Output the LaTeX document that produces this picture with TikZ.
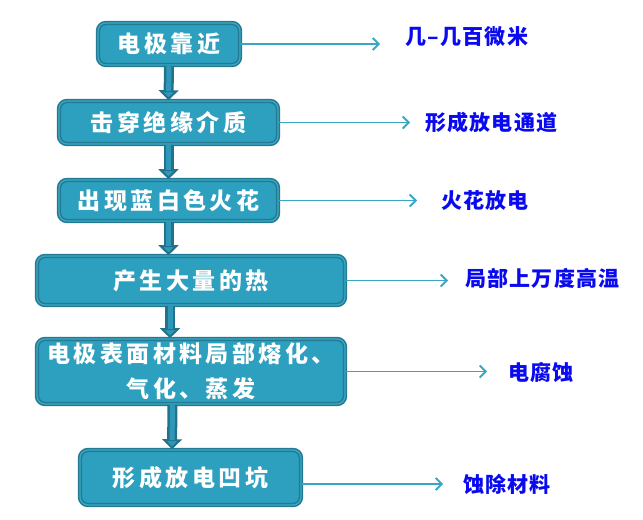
\documentclass[tikz,border=0pt]{standalone}
\usepackage{fontspec}
\usetikzlibrary{arrows.meta}
\newfontfamily\boxfont[LetterSpace=15]{Noto Sans CJK SC}
\newfontfamily\labfont[LetterSpace=6]{Noto Sans CJK SC}
\definecolor{boxfill}{HTML}{2EA0BF}
\definecolor{boxedge}{HTML}{257A93}
\definecolor{boxinner}{HTML}{3AAAC8}
\definecolor{harrow}{HTML}{3AA6C6}
\definecolor{vedge}{HTML}{23728B}
\definecolor{vfill}{HTML}{2E98B8}
\definecolor{labblue}{HTML}{0A0AF0}
\begin{document}
\begin{tikzpicture}[x=1bp,y=-1bp,
  stepbox/.style={rectangle, rounded corners=8bp, fill=boxfill, draw=boxedge,
    line width=1.6bp, double=boxinner, double distance=1.2bp, text=white,
    font=\boxfont\bfseries\fontsize{23bp}{35bp}\selectfont, align=center, inner sep=0pt},
  lab/.style={anchor=west, inner sep=0pt, text=labblue,
    font=\labfont\bfseries\fontsize{21bp}{24bp}\selectfont},
  harr/.style={draw=harrow, line width=1.8bp, -{Straight Barb[length=6bp,width=12bp,line width=1.8bp]}},
  varr/.style={draw=vedge, line width=10bp, -{Triangle[length=10bp,width=20bp,fill=vfill,line width=2bp]},
    postaction={draw=vfill, line width=5bp, shorten >=9bp, -}}
]
\useasboundingbox (0,0) rectangle (643,520);
\node[stepbox, minimum width=142bp, minimum height=42bp] (b1) at (169,44) {电极靠近};
\node[stepbox, minimum width=219bp, minimum height=43bp] (b2) at (168.5,122.5) {击穿绝缘介质};
\node[stepbox, minimum width=219bp, minimum height=41bp] (b3) at (168.5,200.5) {出现蓝白色火花};
\node[stepbox, minimum width=308bp, minimum height=49bp] (b4) at (191,280.5) {产生大量的热};
\node[stepbox, minimum width=308bp, minimum height=65bp] (b5) at (191,371.5) {电极表面材料局部熔化、\\气化、蒸发};
\node[stepbox, minimum width=221bp, minimum height=55bp] (b6) at (190.5,477.5) {形成放电凹坑};

\draw[varr] (b1.south) -- (b2.north);
\draw[varr] (b2.south) -- (b3.north);
\draw[varr] (b3.south) -- (b3.south |- b4.north);
\draw[varr] ([xshift=-21bp]b4.south) -- ([xshift=-21bp]b5.north);
\draw[varr] ([xshift=-18.5bp]b5.south) -- ([xshift=-18.5bp]b6.north);

\coordinate (e1) at (380,44);
\coordinate (e2) at (410,122.5);
\coordinate (e3) at (417,200.5);
\coordinate (e4) at (448,280.5);
\coordinate (e5) at (487,371.5);
\coordinate (e6) at (443,484);
\draw[harr] (b1.east) -- (e1);
\draw[harr] (b2.east) -- (e2);
\draw[harr] (b3.east) -- (e3);
\draw[harr] (b4.east) -- (e4);
\draw[harr] (b5.east) -- (e5);
\draw[harr] (b6.east |- e6) -- (e6);

\node[lab] (l1) at (405,37) {几–几百微米};
\node[lab] (l2) at (425,123) {形成放电通道};
\node[lab] (l3) at (441,200) {火花放电};
\node[lab] (l4) at (465,278) {局部上万度高温};
\node[lab] (l5) at (508,373) {电腐蚀};
\node[lab] (l6) at (463,484) {蚀除材料};
\end{tikzpicture}
\end{document}
